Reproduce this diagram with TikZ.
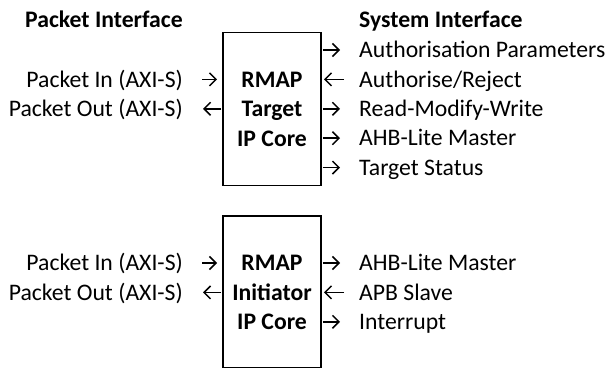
\documentclass[tikz,border=0pt]{standalone}
\usepackage{fontspec}
\setmainfont{Carlito}
\usepackage{tikz}
\usetikzlibrary{arrows.meta}

\tikzset{
  core/.style={draw, line width=1.9pt, minimum width=98pt, align=center,
    font=\fontsize{23.7}{29.4}\selectfont\bfseries},
  lbl/.style={inner sep=0pt, text height=15.2pt, text depth=0pt,
    font=\fontsize{23.7}{29.4}\selectfont},
  head/.style={lbl, font=\fontsize{23.7}{29.4}\selectfont\bfseries},
  sig/.style={line width=1.5pt, -{Straight Barb[length=6.5pt,width=13pt]}}
}

\begin{document}
\begin{tikzpicture}[x=1pt,y=-1pt]
  \path[use as bounding box, clip] (0,0) rectangle (612,367);

  % headings
  \node[head] (pkthd) at (104,19.5) {Packet Interface};
  \node[head, anchor=west] (syshd) at (359,19.5) {System Interface};

  % target core
  \node[core, minimum height=153pt] (tgt) at (272,109) {RMAP\\Target\\IP Core};
  \node[lbl, anchor=east] (tpin) at (183,79.4) {Packet In (AXI-S)};
  \node[lbl, anchor=east] (tpout) at (183,108.8) {Packet Out (AXI-S)};
  \node[lbl, anchor=west] (tauth) at (359,50) {Authorisation Parameters};
  \node[lbl, anchor=west] (trej) at (359,79.4) {Authorise/Reject};
  \node[lbl, anchor=west] (trmw) at (359,108.8) {Read-Modify-Write};
  \node[lbl, anchor=west] (tahb) at (359,138.2) {AHB-Lite Master};
  \node[lbl, anchor=west] (tstat) at (359,167.6) {Target Status};

  \draw[sig, shorten <=19pt, shorten >=5pt] (tpin.east) -- (tpin.east -| tgt.west);
  \draw[sig, shorten <=1pt, shorten >=20pt] (tpout.east -| tgt.west) -- (tpout.east);
  \draw[sig, shorten <=1pt, shorten >=19pt] (tauth.west -| tgt.east) -- (tauth.west);
  \draw[sig, shorten <=15pt, shorten >=2pt] (trej.west) -- (trej.west -| tgt.east);
  \draw[sig, shorten <=1pt, shorten >=19pt] (trmw.west -| tgt.east) -- (trmw.west);
  \draw[sig, shorten <=1pt, shorten >=19pt] (tahb.west -| tgt.east) -- (tahb.west);
  \draw[sig, shorten <=1pt, shorten >=19pt] (tstat.west -| tgt.east) -- (tstat.west);

  % initiator core (cut off at the bottom)
  \node[core, minimum height=152pt] (ini) at (272,292.4) {RMAP\\Initiator\\IP Core};
  \node[lbl, anchor=east] (ipin) at (183,263) {Packet In (AXI-S)};
  \node[lbl, anchor=east] (ipout) at (183,292.4) {Packet Out (AXI-S)};
  \node[lbl, anchor=west] (iahb) at (359,263) {AHB-Lite Master};
  \node[lbl, anchor=west] (iapb) at (359,292.4) {APB Slave};
  \node[lbl, anchor=west] (iirq) at (359,321.8) {Interrupt};

  \draw[sig, shorten <=19pt, shorten >=5pt] (ipin.east) -- (ipin.east -| ini.west);
  \draw[sig, shorten <=1pt, shorten >=20pt] (ipout.east -| ini.west) -- (ipout.east);
  \draw[sig, shorten <=1pt, shorten >=19pt] (iahb.west -| ini.east) -- (iahb.west);
  \draw[sig, shorten <=15pt, shorten >=2pt] (iapb.west) -- (iapb.west -| ini.east);
  \draw[sig, shorten <=1pt, shorten >=19pt] (iirq.west -| ini.east) -- (iirq.west);
\end{tikzpicture}
\end{document}
